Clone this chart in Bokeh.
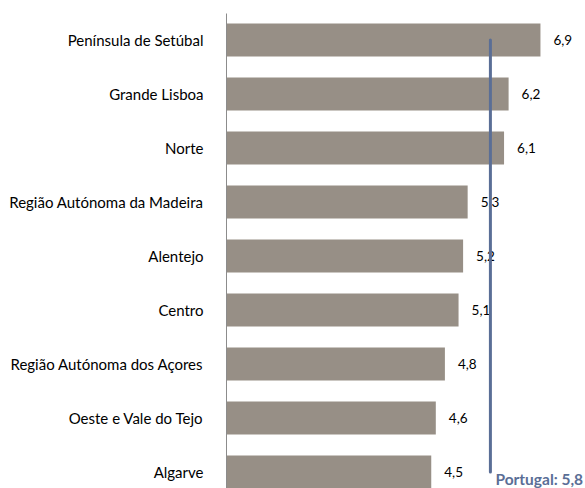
from bokeh.plotting import figure
from bokeh.models import ColumnDataSource, Range1d, FixedTicker
from bokeh.core.properties import value
from bokeh.embed import file_html
from bokeh.resources import INLINE

regions = ["Península de Setúbal", "Grande Lisboa", "Norte", "Região Autónoma da Madeira",
           "Alentejo", "Centro", "Região Autónoma dos Açores", "Oeste e Vale do Tejo", "Algarve"]
values = [6.9, 6.2, 6.1, 5.3, 5.2, 5.1, 4.8, 4.6, 4.5]
portugal = 5.8
portugal_label = "Portugal: 5,8"

n = len(regions)
ypos = [n - 1 - i for i in range(n)]
labels = [f"{v:.1f}".replace(".", ",") for v in values]

src = ColumnDataSource(dict(y=ypos, v=values, lab=labels, name=regions))

p = figure(width=585, height=488, output_backend="svg", toolbar_location=None,
           x_range=Range1d(0, 7.89), y_range=Range1d(-0.306, n - 1 + 0.49),
           min_border_left=226, min_border_right=0, min_border_top=13, min_border_bottom=0)
p.outline_line_color = None
p.grid.visible = False
p.xaxis.visible = False
p.background_fill_color = "white"
p.border_fill_color = "white"

p.hbar(y="y", right="v", left=0, height=0.61, source=src,
       fill_color="#978f86", line_color=None)

p.text(x="v", y="y", text="lab", source=src, x_offset=13,
       text_font=value("Lato"), text_font_size="13.5px", text_color="#000000",
       text_baseline="middle", text_align="left")

p.segment(x0=[portugal], y0=[0], x1=[portugal], y1=[n - 1],
          line_color="#5a6e96", line_width=3, line_cap="round")
p.text(x=[portugal], y=[0], text=[portugal_label], x_offset=5, y_offset=7,
       text_font=value("Lato"), text_font_style="bold", text_font_size="15.5px",
       text_color="#5a6e96", text_baseline="middle", text_align="left")

ax = p.yaxis[0]
ax.ticker = FixedTicker(ticks=ypos)
ax.major_label_overrides = {y: name for y, name in zip(ypos, regions)}
ax.major_tick_out = 0
ax.major_tick_in = 0
ax.minor_tick_out = 0
ax.minor_tick_in = 0
ax.major_label_standoff = 23
ax.axis_line_color = "#8c8c8c"
ax.axis_line_width = 1
ax.major_label_text_font = "Lato"
ax.major_label_text_font_size = "15px"
ax.major_label_text_color = "#000000"

open("out.html", "w").write(file_html(p, INLINE))
